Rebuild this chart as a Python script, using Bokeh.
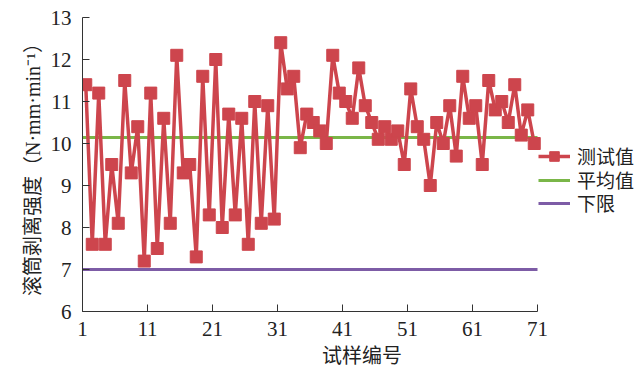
from bokeh.plotting import figure
from bokeh.models import Range1d, FixedTicker, Legend, LegendItem, ColumnDataSource
from bokeh.transform import dodge
from bokeh.embed import file_html
from bokeh.resources import INLINE

# ---- data ----
sample_ids = list(range(1, 71))
test_values = [11.4, 7.6, 11.2, 7.6, 9.5, 8.1, 11.5, 9.3, 10.4, 7.2,
               11.2, 7.5, 10.6, 8.1, 12.1, 9.3, 9.5, 7.3, 11.6, 8.3,
               12.0, 8.0, 10.7, 8.3, 10.6, 7.6, 11.0, 8.1, 10.9, 8.2,
               12.4, 11.3, 11.6, 9.9, 10.7, 10.5, 10.3, 10.0, 12.1, 11.2,
               11.0, 10.6, 11.8, 10.9, 10.5, 10.1, 10.4, 10.1, 10.3, 9.5,
               11.3, 10.4, 10.1, 9.0, 10.5, 10.0, 10.9, 9.7, 11.6, 10.6,
               10.9, 9.5, 11.5, 10.8, 11.0, 10.5, 11.4, 10.2, 10.8, 10.0]
line_x = [1, 71]
mean_values = [10.14, 10.14]
lower_values = [7.0, 7.0]
x_ticks = [1, 11, 21, 31, 41, 51, 61, 71]
y_ticks = [6, 7, 8, 9, 10, 11, 12, 13]
series_labels = ["测试值", "平均值", "下限"]
x_label = "试样编号"
y_label = "滚筒剥离强度（N·mm·min⁻¹）"

RED = "#cd454d"
GREEN = "#7ab648"
PURPLE = "#7d5ca6"
FONT = "Liberation Serif, Noto Sans CJK SC"

src = ColumnDataSource(dict(x=sample_ids, y=test_values))
ref = ColumnDataSource(dict(x=line_x, mean=mean_values, low=lower_values))

# frame extends to the right edge so the legend can sit beside the data;
# the x axis line itself is bounded to 1..71
p = figure(width=641, height=369, output_backend="svg", toolbar_location=None,
           x_range=Range1d(1, 1 + 559 / 6.5), y_range=Range1d(6, 13),
           min_border_left=82, min_border_right=0, min_border_top=17,
           min_border_bottom=58)
p.outline_line_color = None
p.xgrid.visible = False
p.ygrid.visible = False
p.background_fill_color = "white"
p.border_fill_color = "white"

r_low = p.line("x", "low", source=ref, line_color=PURPLE, line_width=3)
r_mean = p.line("x", "mean", source=ref, line_color=GREEN, line_width=3)
r_line = p.line(dodge("x", 0.5), "y", source=src, line_color=RED, line_width=3.5)
r_pts = p.scatter(dodge("x", 0.5), "y", source=src, marker="square", size=12,
                  fill_color=RED, line_color=RED)

for ax in (p.xaxis[0], p.yaxis[0]):
    ax.axis_line_color = "#333333"
    ax.major_tick_line_color = "#333333"
    ax.major_tick_in = 7
    ax.major_tick_out = 0
    ax.minor_tick_line_color = None
    ax.major_label_text_font = FONT
    ax.major_label_text_font_size = "21px"
    ax.major_label_text_color = "#222222"
    ax.axis_label_text_font = FONT
    ax.axis_label_text_font_style = "normal"
    ax.axis_label_text_color = "#222222"

p.xaxis.ticker = FixedTicker(ticks=x_ticks)
p.yaxis.ticker = FixedTicker(ticks=y_ticks)
p.xaxis.bounds = (1, 71)
p.xaxis.major_label_standoff = 10
p.yaxis.major_label_standoff = 11
p.xaxis.axis_label = x_label
p.yaxis.axis_label = y_label
p.xaxis.axis_label_text_font_size = "20px"
p.yaxis.axis_label_text_font_size = "20px"
p.xaxis.axis_label_standoff = 6
p.yaxis.axis_label_standoff = 4

# one small legend per entry so the entry pitch matches the reference
entries = [(series_labels[0], [r_line, r_pts], 142),
           (series_labels[1], [r_mean], 118),
           (series_labels[2], [r_low], 95)]
for label, rends, vy in entries:
    lg = Legend(items=[LegendItem(label=label, renderers=rends)],
                location=(456, vy), orientation="vertical",
                margin=0, padding=0, spacing=0,
                glyph_width=32, glyph_height=24, label_height=24,
                label_standoff=7, label_text_font=FONT,
                label_text_font_size="19px", label_text_color="#222222",
                background_fill_alpha=0, border_line_color=None)
    p.add_layout(lg, "center")

open("out.html", "w").write(file_html(p, INLINE))
